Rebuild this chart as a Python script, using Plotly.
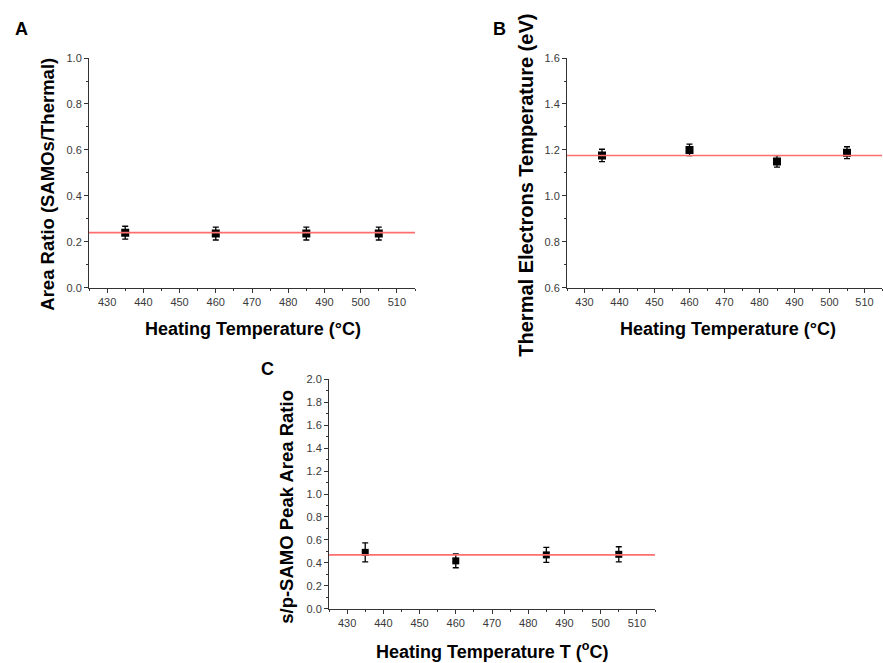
import plotly.graph_objects as go

# ---- data ----
temps = [435, 460, 485, 505]

area_ratio = [0.240, 0.236, 0.236, 0.236]
area_ratio_err = [0.028, 0.028, 0.028, 0.028]
area_ratio_fit = 0.240

thermal_te = [1.176, 1.200, 1.150, 1.188]
thermal_te_err = [0.027, 0.025, 0.025, 0.026]
thermal_te_fit = 1.176

sp_ratio = [0.492, 0.418, 0.470, 0.475]
sp_ratio_err = [0.082, 0.060, 0.066, 0.066]
sp_ratio_fit = 0.470

x_ticks = [430, 440, 450, 460, 470, 480, 490, 500, 510]

FONT = "Liberation Sans, Arial, sans-serif"
TICKC = "#3a3a3a"

fig = go.Figure()

def add_series(y, err, xa, ya, size):
    fig.add_trace(go.Scatter(
        x=temps, y=y, mode="markers", xaxis=xa, yaxis=ya,
        marker=dict(symbol="square", size=size, color="black"),
        error_y=dict(type="data", array=err, visible=True, color="black",
                     thickness=1.3, width=3),
        showlegend=False))

add_series(area_ratio, area_ratio_err, "x", "y", 8)
add_series(thermal_te, thermal_te_err, "x2", "y2", 8)
add_series(sp_ratio, sp_ratio_err, "x3", "y3", 7)

for ax, val in [("x", area_ratio_fit), ("x2", thermal_te_fit), ("x3", sp_ratio_fit)]:
    yref = "y" + ax[1:]
    fig.add_shape(type="line", xref=f"{ax} domain", yref=yref, x0=0, x1=1,
                  y0=val, y1=val, line=dict(color="rgb(255,110,110)", width=1.6))

W, H = 883, 663

def xdom(a, b):
    return [a / W, b / W]

def ydom(top, bottom):
    return [1 - bottom / H, 1 - top / H]

def xaxis(domain, anchor):
    return dict(domain=domain, anchor=anchor, range=[425, 515],
                tickmode="array", tickvals=x_ticks,
                showline=True, linecolor="#333", linewidth=1,
                ticks="outside", ticklen=4, tickcolor="#333",
                minor=dict(dtick=5, ticks="outside", ticklen=2, tickcolor="#333"),
                showgrid=False, zeroline=False,
                tickfont=dict(family=FONT, size=11, color=TICKC))

def yaxis(domain, anchor, rng, dtick, fmt):
    return dict(domain=domain, anchor=anchor, range=rng, dtick=dtick,
                tick0=rng[0], tickformat=fmt,
                showline=True, linecolor="#333", linewidth=1,
                ticks="outside", ticklen=4, tickcolor="#333",
                minor=dict(dtick=dtick / 2, ticks="outside", ticklen=2, tickcolor="#333"),
                showgrid=False, zeroline=False,
                tickfont=dict(family=FONT, size=11, color=TICKC))

fig.update_layout(
    width=W, height=H,
    margin=dict(l=0, r=0, t=0, b=0),
    paper_bgcolor="white", plot_bgcolor="white",
    xaxis=xaxis(xdom(89, 415), "y"),
    yaxis=yaxis(ydom(53, 287), "x", [0, 1.0], 0.2, ".1f"),
    xaxis2=xaxis(xdom(567, 882), "y2"),
    yaxis2=yaxis(ydom(53, 287), "x2", [0.6, 1.6], 0.2, ".1f"),
    xaxis3=xaxis(xdom(329, 655), "y3"),
    yaxis3=yaxis(ydom(380, 614), "x3", [0, 2.0], 0.2, ".1f"),
)

def ann(text, x, y, size, angle=0, anchor="center"):
    fig.add_annotation(text=text, x=x / W, y=1 - y / H, xref="paper", yref="paper",
                       showarrow=False, textangle=angle, xanchor=anchor, yanchor="middle",
                       font=dict(family=FONT, size=size, color="black"))

# panel letters
ann("<b>A</b>", 21, 23, 18)
ann("<b>B</b>", 499, 23, 18)
ann("<b>C</b>", 267, 370, 18)

# axis titles
ann("<b>Heating Temperature (°C)</b>", 253, 329, 18)
ann("<b>Heating Temperature (°C)</b>", 728, 329, 18)
ann("<b>Heating Temperature T (<sup>o</sup>C)</b>", 492, 656, 18)
ann("<b>Area Ratio (SAMOs/Thermal)</b>", 48, 182, 18.5, angle=-90)
ann("<b>Thermal Electrons Temperature (eV)</b>", 526, 183, 20, angle=-90)
ann("<b>s/p-SAMO Peak Area Ratio</b>", 287, 510, 18.5, angle=-90)

fig.write_html("out.html",
               config={"displayModeBar": False},
               post_script="document.body.style.margin='0';document.body.style.overflow='hidden';")
